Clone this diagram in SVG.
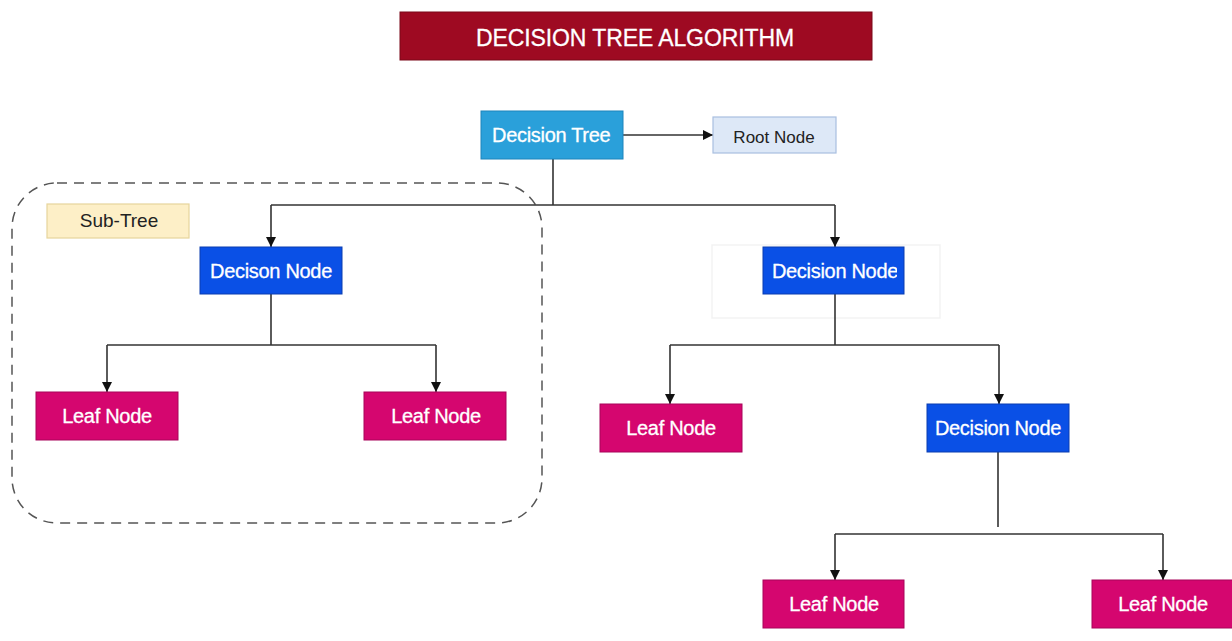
<svg xmlns="http://www.w3.org/2000/svg" width="1232" height="641" viewBox="0 0 1232 641">
<style>
.t{font-family:"Liberation Sans",Arial,sans-serif;}
.w{fill:#ffffff;font-size:20px;text-anchor:middle;letter-spacing:-0.3px;stroke:#ffffff;stroke-width:0.3px;}
.dk{fill:#222222;text-anchor:middle;}
.dec{fill:#0a50e6;stroke:#0a3cb0;stroke-width:1;}
.leaf{fill:#d5066f;stroke:#a8055a;stroke-width:1;}
.conn{fill:none;stroke:#333333;stroke-width:1.6;}
</style>
<defs>
<marker id="ah" viewBox="0 0 10 10" refX="10" refY="5" markerWidth="10" markerHeight="10" markerUnits="userSpaceOnUse" orient="auto">
<path d="M0,0 L10,5 L0,10 z" fill="#111111"/>
</marker>
<clipPath id="c1"><rect x="481" y="111" width="132" height="48"/></clipPath>
<clipPath id="c2"><rect x="763" y="247" width="134" height="47"/></clipPath>
<clipPath id="c3"><rect x="200" y="247" width="134" height="47"/></clipPath>
<clipPath id="c4"><rect x="927" y="404" width="135" height="48"/></clipPath>
</defs>
<rect width="1232" height="641" fill="#ffffff"/>

<g id="title">
<rect x="400" y="12" width="472" height="48" fill="#9e0a22" stroke="#7a0818" stroke-width="1"/>
<text class="t" x="635" y="46" fill="#ffffff" stroke="#ffffff" stroke-width="0.3" font-size="23" text-anchor="middle" letter-spacing="-0.1">DECISION TREE ALGORITHM</text>
</g>

<g id="subtree-boundary">
<rect x="12" y="183" width="530" height="340" rx="45" ry="45" fill="none" stroke="#555555" stroke-width="1.5" stroke-dasharray="10 7"/>
</g>

<g id="faint-frame">
<rect x="712" y="245" width="228" height="73" fill="none" stroke="#f3f3f3" stroke-width="1.5"/>
</g>

<g id="connectors">
<path class="conn" d="M623,135 L713,135" marker-end="url(#ah)"/>
<path class="conn" d="M553,159 L553,205"/>
<path class="conn" d="M271,205 L835,205"/>
<path class="conn" d="M271,205 L271,247" marker-end="url(#ah)"/>
<path class="conn" d="M835,205 L835,247" marker-end="url(#ah)"/>
<path class="conn" d="M271,294 L271,345"/>
<path class="conn" d="M107,345 L436,345"/>
<path class="conn" d="M107,345 L107,392" marker-end="url(#ah)"/>
<path class="conn" d="M436,345 L436,392" marker-end="url(#ah)"/>
<path class="conn" d="M835,294 L835,345"/>
<path class="conn" d="M670,345 L999,345"/>
<path class="conn" d="M670,345 L670,404" marker-end="url(#ah)"/>
<path class="conn" d="M999,345 L999,404" marker-end="url(#ah)"/>
<path class="conn" d="M998,452 L998,527"/>
<path class="conn" d="M835,534 L1163,534"/>
<path class="conn" d="M835,534 L835,580" marker-end="url(#ah)"/>
<path class="conn" d="M1163,534 L1163,580" marker-end="url(#ah)"/>
</g>

<g id="root-decision-tree">
<rect x="481" y="111" width="142" height="48" fill="#2aa0da" stroke="#1c84bc" stroke-width="1"/>
<text class="t w" x="492" y="142" clip-path="url(#c1)" style="text-anchor:start">Decision Tree</text>
</g>

<g id="root-node-label">
<rect x="713" y="117" width="123" height="36" fill="#dde8f7" stroke="#a9bfdf" stroke-width="1.2"/>
<text class="t dk" x="774" y="143" font-size="17">Root Node</text>
</g>

<g id="subtree-label">
<rect x="47" y="204" width="142" height="34" fill="#fdefc7" stroke="#e6d49c" stroke-width="1.2"/>
<text class="t dk" x="119" y="227" font-size="19">Sub-Tree</text>
</g>

<g id="decision-node-left">
<rect class="dec" x="200" y="247" width="142" height="47"/>
<text class="t w" x="271" y="278" clip-path="url(#c3)">Decison Node</text>
</g>

<g id="decision-node-right">
<rect class="dec" x="763" y="247" width="141" height="47"/>
<text class="t w" x="835" y="278" clip-path="url(#c2)">Decision Node</text>
</g>

<g id="leaf-1">
<rect class="leaf" x="36" y="392" width="142" height="48"/>
<text class="t w" x="107" y="423">Leaf Node</text>
</g>

<g id="leaf-2">
<rect class="leaf" x="364" y="392" width="142" height="48"/>
<text class="t w" x="436" y="423">Leaf Node</text>
</g>

<g id="leaf-3">
<rect class="leaf" x="600" y="404" width="142" height="48"/>
<text class="t w" x="671" y="435">Leaf Node</text>
</g>

<g id="decision-node-lower">
<rect class="dec" x="927" y="404" width="142" height="48"/>
<text class="t w" x="998" y="435" clip-path="url(#c4)">Decision Node</text>
</g>

<g id="leaf-4">
<rect class="leaf" x="763" y="580" width="141" height="48"/>
<text class="t w" x="834" y="611">Leaf Node</text>
</g>

<g id="leaf-5">
<rect class="leaf" x="1092" y="580" width="142" height="48"/>
<text class="t w" x="1163" y="611">Leaf Node</text>
</g>
</svg>
